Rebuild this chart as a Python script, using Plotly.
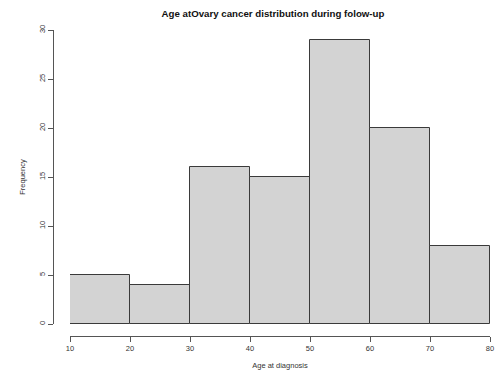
import plotly.graph_objects as go

# histogram bins (age at diagnosis) and counts
bin_starts = [10, 20, 30, 40, 50, 60, 70]
bin_width = 10
counts = [5, 4, 16, 15, 29, 20, 8]
x_ticks = [10, 20, 30, 40, 50, 60, 70, 80]
y_ticks = [0, 5, 10, 15, 20, 25, 30]

centers = [s + bin_width / 2 for s in bin_starts]

# the page body keeps its default 8px margin, so the figure is 8px smaller
W, H = 495, 370
left, right, top, bottom = 45, 13, 22, 42
plot_w = W - left - right
plot_h = H - top - bottom

fig = go.Figure(go.Bar(
    x=centers, y=counts, width=bin_width,
    marker=dict(color='#d3d3d3', line=dict(color='#3a3a3a', width=1)),
    hoverinfo='x+y',
))

axis_font = dict(family='Liberation Sans, Arial, sans-serif', size=7.5, color='#333')

fig.update_layout(
    width=W, height=H,
    margin=dict(l=left, r=right, t=top, b=bottom, pad=0, autoexpand=False),
    paper_bgcolor='white', plot_bgcolor='white',
    showlegend=False,
    bargap=0,
    title=dict(text='<b>Age atOvary cancer distribution during folow-up</b>',
               x=265 / W, xanchor='center', y=1 - 2 / H, yanchor='top',
               font=dict(family='Liberation Sans, Arial, sans-serif', size=9.7, color='#111')),
    xaxis=dict(
        range=[10, 80], domain=[17 / plot_w, 1], anchor='free', position=0,
        automargin=False,
        tickvals=x_ticks, ticks='outside', ticklen=5, tickcolor='#555', tickwidth=1,
        showline=True, linecolor='#555', linewidth=1, showgrid=False, zeroline=False,
        tickfont=axis_font,
        title=dict(text='Age at diagnosis', font=axis_font, standoff=10),
    ),
    yaxis=dict(
        range=[0, 30], domain=[12 / plot_h, 1], anchor='free', position=0,
        automargin=False,
        tickvals=y_ticks, ticks='outside', ticklen=5, tickcolor='#555', tickwidth=1,
        tickangle=-90,
        showline=True, linecolor='#555', linewidth=1, showgrid=False, zeroline=False,
        tickfont=axis_font,
        title=dict(text='Frequency', font=axis_font, standoff=10),
    ),
)

fig.write_html("out.html")
